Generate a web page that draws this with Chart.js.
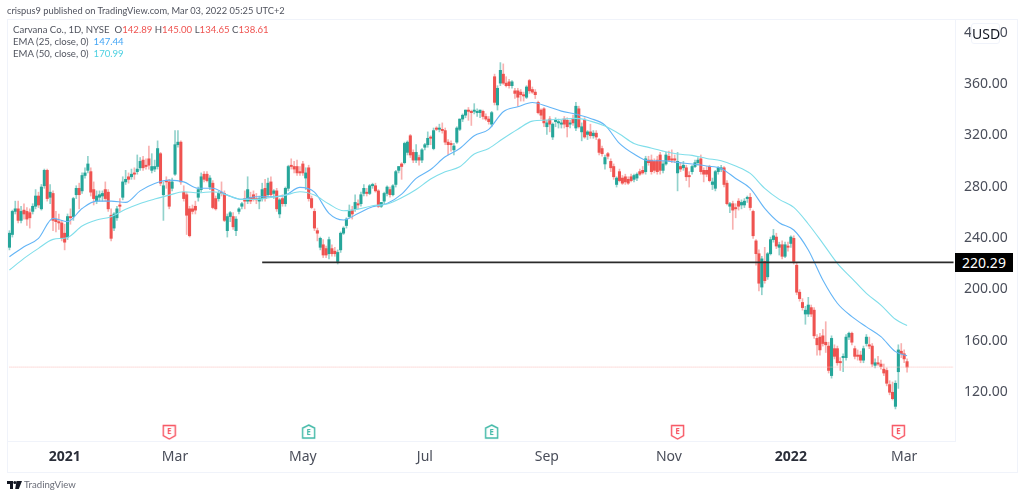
<!DOCTYPE html>
<html lang="en">
<head>
<meta charset="UTF-8">
<title>Carvana Co., 1D, NYSE</title>
<script src="https://cdn.jsdelivr.net/npm/chart.js"></script>
<style>
    html, body { margin: 0; padding: 0; background: #fff; }
    body { width: 1024px; height: 497px; position: relative; overflow: hidden; font-family: "Noto Sans", sans-serif; }
    canvas { position: absolute; left: 0; top: 0; }
    .txt { position: absolute; white-space: pre; line-height: 12px; font-family: Lato, sans-serif; font-size: 9.6px; color: #50535e; }
    .frame { position: absolute; left: 7px; top: 19px; width: 1009px; height: 452px; border: 1px solid #f0f3fa; }
    .red { color: #ef5350; }
    .usd { position: absolute; left: 971px; top: 23px; width: 27px; height: 19px; line-height: 19px; text-align: center;
           font-size: 14px; color: #131722; background: #fff; border: 1px solid #f0f3fa; border-radius: 3px; }
    .tag { position: absolute; left: 955px; top: 253px; width: 58px; height: 19px; line-height: 19px; text-align: center;
           font-size: 14px; color: #fff; background: #000; }
</style>
</head>
<body>
<div class="frame"></div>
<canvas id="chart" width="1024" height="497"></canvas>
<div class="txt" style="left:7px;top:5px;font-size:9.3px">crispus9 published on TradingView.com, Mar 03, 2022 05:25 UTC+2</div>
<div class="txt" style="left:13px;top:24px">Carvana Co., 1D, NYSE  O<span class="red">142.89</span> H<span class="red">145.00</span> L<span class="red">134.65</span> C<span class="red">138.61</span></div>
<div class="txt" style="left:13px;top:36px">EMA (25, close, 0)  <span style="color:#42a5f5">147.44</span></div>
<div class="txt" style="left:13px;top:48px">EMA (50, close, 0)  <span style="color:#4dd0e1">170.99</span></div>
<div class="usd">USD</div>
<div class="tag">220.29</div>
<svg style="position:absolute;left:7px;top:481px" width="15" height="8" viewBox="0 0 15 8">
    <path d="M0 0h6v8H3V3H0z M9.5 0h5.5l-3.2 8H8.2z" fill="#131722"/><circle cx="7.8" cy="1.6" r="1.5" fill="#131722"/>
</svg>
<div class="txt" style="left:24px;top:479px;color:#6a6d78;font-size:9.6px">TradingView</div>

<script>
    // daily candles (USD)
    const opens = [
        232,242,260,262,253,261,260,259,260,264,
        272,262,280,292,271,274,254,252,251,243,
        240,256,256,273,278,276,288,292,291,277,
        268,271,272,277,275,257,247,255,265,271,
        283,287,287,290,291,294,300,296,301,292,
        293,295,305,273,284,283,278,289,312,314,
        275,273,262,262,264,271,277,289,289,279,
        282,270,270,275,274,245,256,256,245,260,
        264,270,268,271,273,270,268,270,278,273,
        283,274,276,258,270,266,278,296,295,295,
        291,297,286,294,270,260,245,232,234,231,
        227,231,229,221,230,243,249,256,261,262,
        266,266,274,275,274,280,280,276,264,268,
        274,277,273,281,292,297,298,306,319,306,
        300,302,300,310,312,318,309,325,324,324,
        323,314,313,308,314,324,332,335,339,338,
        338,337,337,338,334,332,328,365,343,360,
        367,360,361,358,354,354,353,351,349,362,
        355,353,345,339,340,326,332,318,330,329,
        328,332,331,328,332,325,340,322,331,320,
        322,319,321,316,309,297,305,299,295,281,
        291,286,287,285,287,285,286,291,292,291,
        300,300,299,300,304,292,297,303,301,301,
        290,295,294,294,288,291,295,298,301,292,
        292,295,281,278,291,293,294,282,264,266,
        263,268,265,265,270,271,260,237,227,201,
        221,209,227,238,240,232,234,225,233,235,
        239,218,197,189,180,180,185,183,161,162,
        163,158,155,132,153,153,143,146,146,162,
        165,153,148,148,144,157,156,155,140,142,
        141,137,136,125,119,108,135,151,149,142.89
    ];
    const highs = [
        245,261,268,268,264,266,263,262,266,277,
        275,281,293,293,281,276,260,258,253,250,
        258,262,271,280,282,290,294,303,294,283,
        276,276,276,283,277,262,259,264,270,287,
        292,290,293,294,304,302,303,301,311,305,
        300,315,306,283,287,285,286,323,323,315,
        280,275,264,265,268,279,290,291,291,288,
        284,272,276,283,276,258,260,259,256,263,
        267,276,287,275,276,274,272,282,285,286,
        287,277,278,270,273,279,296,301,299,300,
        295,299,294,296,272,262,247,240,238,233,
        240,234,232,230,244,248,255,265,264,273,
        269,275,281,278,281,282,282,277,267,275,
        280,279,281,292,295,298,314,315,320,308,
        312,304,309,313,322,319,325,326,328,329,
        325,316,315,313,326,332,336,339,341,339,
        344,340,339,339,336,334,338,367,358,376,
        375,365,363,362,356,356,355,353,358,363,
        357,355,346,340,341,331,334,329,333,332,
        331,334,333,331,335,345,342,329,333,323,
        328,323,323,317,311,304,306,301,297,287,
        293,288,289,287,289,289,290,293,295,303,
        303,304,301,303,306,299,306,307,308,304,
        306,298,299,296,291,296,300,302,304,294,
        295,296,286,292,295,296,295,284,267,268,
        266,270,269,270,272,274,261,238,230,225,
        232,228,240,246,243,236,237,236,236,241,
        241,220,199,192,186,193,187,185,164,165,
        168,174,158,163,156,155,146,149,164,166,
        166,155,152,151,155,164,162,157,145,147,
        144,141,138,128,127,128,156,157,152,145
    ];
    const lows = [
        230,240,258,251,251,254,249,247,258,262,
        263,261,278,268,266,245,244,246,237,230,
        238,250,253,270,262,274,286,290,272,265,
        266,268,268,268,260,237,245,253,260,269,
        281,282,285,285,289,292,292,293,293,290,
        291,293,280,253,278,262,276,288,310,281,
        268,242,240,258,258,268,275,283,283,277,
        262,261,268,272,252,240,252,246,241,258,
        262,262,266,266,268,266,262,268,268,271,
        271,270,260,255,264,264,276,293,290,288,
        288,288,277,268,262,245,237,230,224,224,
        223,225,225,219,228,242,247,255,254,260,
        262,264,272,272,273,278,275,263,263,266,
        272,271,272,279,290,285,297,304,302,298,
        298,296,298,308,310,312,308,323,322,321,
        312,304,307,304,313,323,330,333,331,327,
        336,334,333,332,331,328,326,343,339,358,
        359,357,356,356,348,342,346,346,348,352,
        352,348,336,332,326,320,322,316,326,325,
        325,325,318,325,327,323,325,315,317,316,
        317,317,316,304,303,293,301,291,285,279,
        283,281,281,281,283,283,284,288,289,289,
        296,289,290,289,289,290,296,299,298,298,
        276,291,292,284,279,289,294,296,289,283,
        287,283,277,276,289,291,279,265,259,246,
        255,261,262,263,267,261,239,218,198,195,
        204,207,226,236,231,226,223,224,229,232,
        219,195,190,183,172,178,178,161,148,148,
        155,150,134,130,145,140,136,135,144,160,
        156,145,144,142,142,155,153,139,138,140,
        137,132,124,117,113,106,122,146,142,134.65
    ];
    const closes = [
        243,260,262,253,260,258,254,255,264,272,
        265,279,292,270,275,253,252,251,239,236,
        256,255,270,278,273,288,290,297,275,270,
        272,273,274,270,262,239,258,262,264,283,
        285,285,289,289,293,299,294,295,296,295,
        295,309,282,280,283,264,283,312,314,283,
        270,257,241,260,261,277,287,285,284,286,
        263,262,274,274,253,256,259,248,254,262,
        266,268,277,268,270,269,270,277,270,282,
        273,276,262,269,266,278,295,295,293,290,
        290,290,290,270,263,247,243,239,226,226,
        238,227,227,228,243,247,254,260,258,267,
        265,273,278,274,280,281,276,264,267,274,
        279,273,280,291,295,295,313,314,304,300,
        306,300,308,312,317,317,323,324,325,323,
        314,312,312,311,325,332,335,339,338,337,
        339,338,339,334,332,330,337,345,356,370,
        360,358,358,361,352,349,351,350,357,354,
        353,351,337,335,329,329,328,328,331,330,
        329,328,326,329,329,342,326,326,318,322,
        319,321,318,306,305,302,303,294,287,286,
        284,282,283,282,284,288,289,289,290,301,
        298,291,292,291,292,297,304,300,300,300,
        299,293,296,287,287,295,298,300,291,289,
        289,284,283,291,294,294,281,266,266,261,
        262,264,267,268,271,263,241,227,204,223,
        206,227,238,241,233,234,225,234,232,240,
        221,197,192,185,183,187,180,163,156,152,
        157,156,136,161,147,142,142,147,162,165,
        158,147,147,144,153,162,155,141,142,141,
        139,134,126,119,114,126,152,149,145,138.61
    ];

    // EMA lines read every fifth bar, plus the last one
    const emaBars = [
        0,5,10,15,20,25,30,35,40,45,50,55,60,65,70,75,80,85,90,95,100,105,110,
        115,120,125,130,135,140,145,150,155,160,165,170,175,180,185,190,195,200,205,210,215,
        220,225,230,235,240,245,250,255,260,265,270,275,280,285,290,295,300,305,309
    ];
    const ema25 = [
        224.7,232.5,239,254.6,252,262.3,268,268,267,276,281.8,284.4,283,278,278,272.7,269.4,271.4,271.4,272.7,278.7,275,258.5,
        253.3,258.4,263.6,266.2,273.5,285.7,292.7,302.6,309,319,324,337.7,341.6,344.9,342,338.2,335.8,332.5,327.3,313,304.7,
        299.5,299.5,298.2,296.9,295.4,293.5,285.7,278,262.4,251.2,245.5,229.9,206.5,188.4,178,170,162.4,150.7,147.44
    ];
    const ema50 = [
        214.3,223.4,231.2,238.2,239.7,248.6,253.3,255.9,261.6,266.2,269.6,272.7,275.3,274.5,275.3,272.7,269.4,269.4,270.9,272.7,275.3,272.7,265.7,
        260.5,261.8,264.4,265.7,270.6,277.1,285.2,290.9,294.8,304.7,309.1,316.9,324.1,330.4,331.2,331.9,332.5,330.4,326.5,320.3,313,
        309.9,307,304.7,303.7,301.3,299.5,295.4,289.6,278,269.4,263.1,250.2,235.1,219.5,207.8,196.1,187,175.9,170.99
    ];

    const tickBars = [19, 57, 101, 143, 185, 227, 269, 308];
    const tickLabels = ['2021', 'Mar', 'May', 'Jul', 'Sep', 'Nov', '2022', 'Mar'];
    const priceTicks = [120, 160, 200, 240, 280, 320, 360, 400];

    const earningsBars = [55, 103, 166, 230, 306];
    const earningsBeat = [false, true, true, false, false];
    const earningsLevel = 88;

    const supportLevel = 220.29;
    const supportStart = 87;
    const lastPrice = 138.61;
    const slotCount = 326; // empty room to the right of the last bar

    const RED = '#ef5350', GREEN = '#26a69a';
    const labels = Array.from({length: slotCount}, (_, i) => String(i));
    const isUp = i => closes[i] >= opens[i];

    function sparse(bars, values) {
        const out = labels.map(() => null);
        bars.forEach((b, i) => { out[b] = values[i]; });
        return out;
    }

    // little earnings flag, shield for a miss and house for a beat
    function earningsIcon(beat) {
        const c = document.createElement('canvas');
        c.width = 15; c.height = 16;
        const g = c.getContext('2d');
        const col = beat ? '#3fb8a6' : '#f7525f';
        g.strokeStyle = col; g.lineWidth = 1.4; g.fillStyle = '#fff';
        g.beginPath();
        if (beat) {
            g.moveTo(7.5, 1); g.lineTo(13.5, 4); g.lineTo(13.5, 14); g.lineTo(1.5, 14); g.lineTo(1.5, 4);
        } else {
            g.moveTo(1.5, 1.5); g.lineTo(13.5, 1.5); g.lineTo(13.5, 11.5); g.lineTo(7.5, 15); g.lineTo(1.5, 11.5);
        }
        g.closePath(); g.fill(); g.stroke();
        g.fillStyle = col; g.font = 'bold 8px "Noto Sans"'; g.textAlign = 'center'; g.textBaseline = 'middle';
        g.fillText('E', 7.5, beat ? 8.5 : 7.5);
        return c;
    }
    const earningsIcons = sparse(earningsBars, earningsBeat.map(earningsIcon));

    new Chart(document.getElementById('chart'), {
        data: {
            labels: labels,
            datasets: [
                {
                    type: 'bar', order: 4, grouped: false, barThickness: 1,
                    data: highs.map((h, i) => [lows[i], h]),
                    backgroundColor: highs.map((h, i) => isUp(i) ? 'rgba(38,166,154,.5)' : 'rgba(239,83,80,.45)')
                },
                {
                    type: 'bar', order: 3, grouped: false, barThickness: 2.4,
                    data: opens.map((o, i) => [o, closes[i]]),
                    backgroundColor: opens.map((o, i) => isUp(i) ? GREEN : RED)
                },
                { type: 'line', order: 2, data: sparse(emaBars, ema50), borderColor: '#80deea', borderWidth: 1.1, pointRadius: 0, spanGaps: true, cubicInterpolationMode: 'monotone' },
                { type: 'line', order: 2, data: sparse(emaBars, ema25), borderColor: '#64b5f6', borderWidth: 1.1, pointRadius: 0, spanGaps: true, cubicInterpolationMode: 'monotone' },
                { type: 'line', order: 1, data: labels.map(() => lastPrice), borderColor: '#f9b9b7', borderWidth: 1, borderDash: [1, 1], pointRadius: 0 },
                { type: 'line', order: 0, data: labels.map((_, i) => i >= supportStart ? supportLevel : null), borderColor: '#2b2b2b', borderWidth: 1.8, pointRadius: 0 },
                {
                    type: 'line', order: 0, data: sparse(earningsBars, earningsBars.map(() => earningsLevel)),
                    showLine: false, pointStyle: ctx => earningsIcons[ctx.dataIndex] || 'circle', pointRadius: 7
                }
            ]
        },
        options: {
            responsive: false,
            animation: false,
            layout: { padding: { left: 7, top: 19, right: 7, bottom: 25 } },
            plugins: { legend: { display: false }, tooltip: { enabled: false } },
            scales: {
                x: {
                    type: 'category',
                    afterFit: axis => { axis.height = 31; },
                    afterBuildTicks: axis => { axis.ticks = tickBars.map(b => ({value: b})); },
                    grid: { display: false, drawTicks: false },
                    border: { color: '#f0f3fa' },
                    ticks: {
                        autoSkip: false, maxRotation: 0, padding: 8,
                        color: ctx => tickLabels[ctx.index].startsWith('20') ? '#2a2e39' : '#4a4e5a',
                        font: ctx => ({ family: '"Noto Sans"', size: 14, weight: tickLabels[ctx.index].startsWith('20') ? 'bold' : 'normal' }),
                        callback: (v, i) => tickLabels[i]
                    }
                },
                y: {
                    position: 'right', min: 81, max: 410,
                    afterFit: axis => { axis.width = 62; },
                    afterBuildTicks: axis => { axis.ticks = priceTicks.map(p => ({value: p})); },
                    grid: { display: false, drawTicks: false },
                    border: { color: '#f0f3fa' },
                    ticks: {
                        padding: 9, labelOffset: 1, color: '#4a4e5a',
                        font: { family: '"Noto Sans"', size: 14 },
                        callback: v => v.toFixed(2)
                    }
                }
            }
        }
    });
</script>
</body>
</html>
